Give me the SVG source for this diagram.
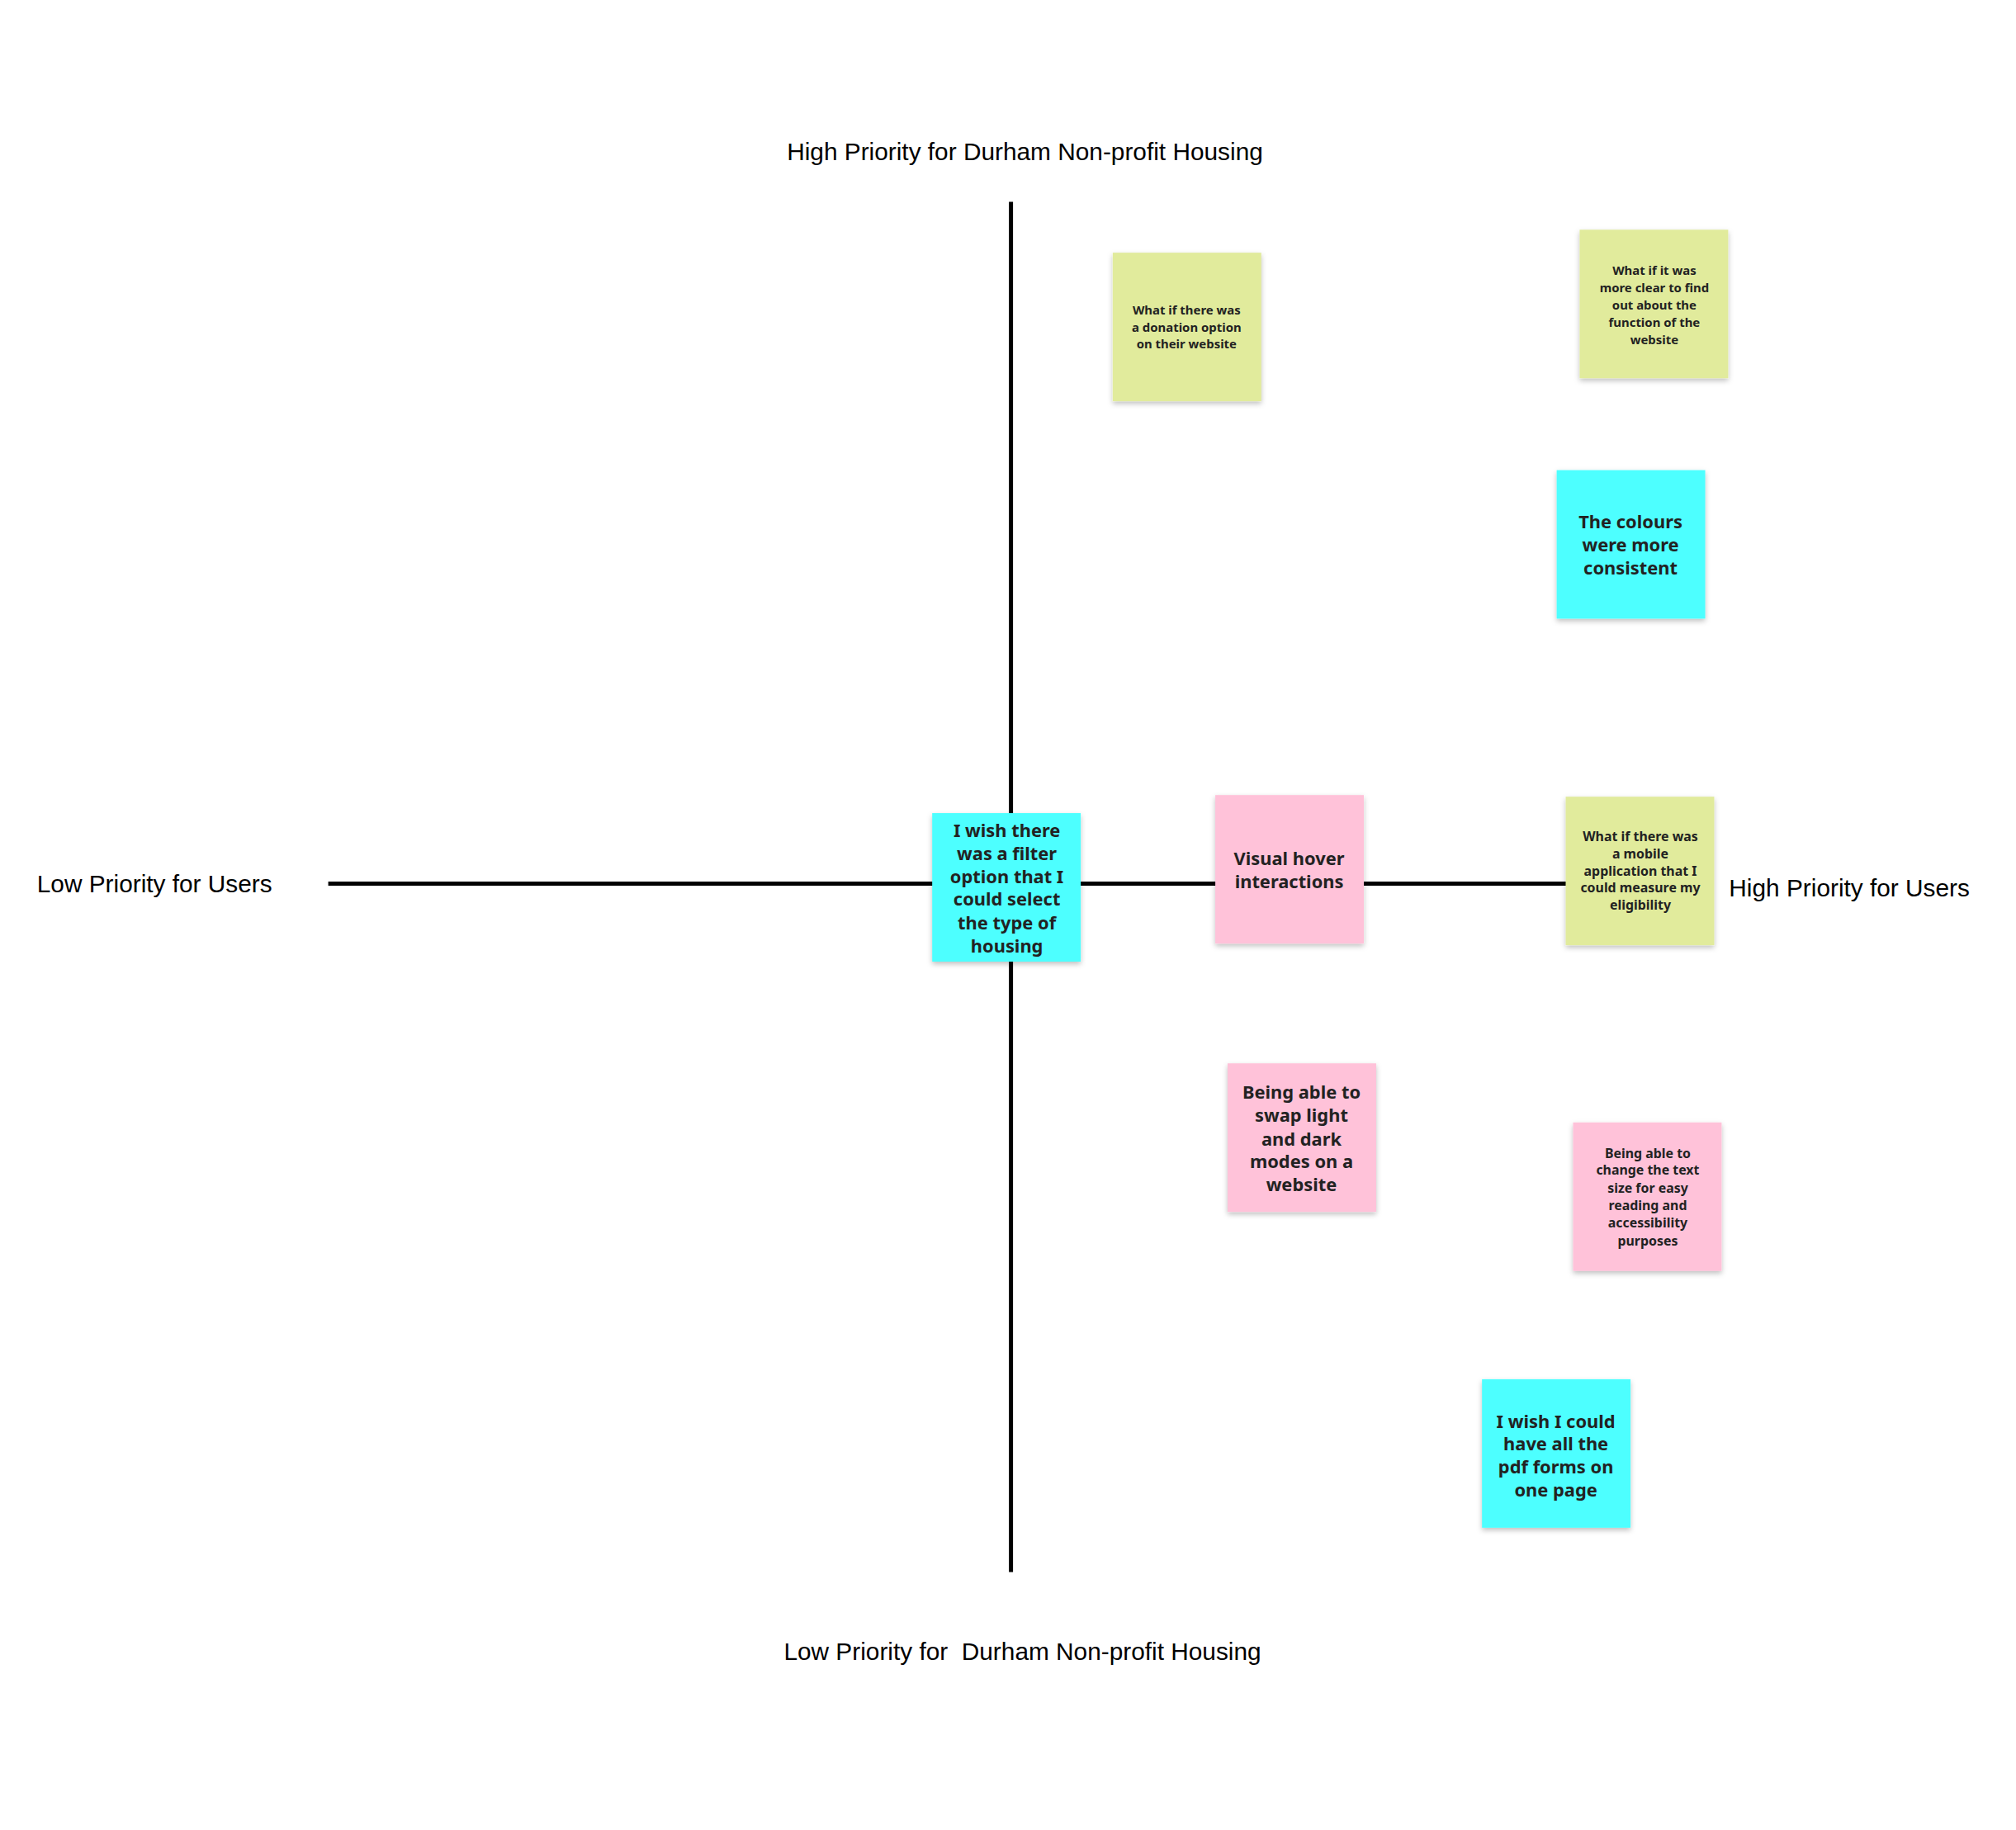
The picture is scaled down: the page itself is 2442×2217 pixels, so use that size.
<svg xmlns="http://www.w3.org/2000/svg" width="2442" height="2217" viewBox="0 0 2442 2217">
<style>
.ax{stroke:#000;stroke-width:5;fill:none}
.lbl{font-family:"Liberation Sans",Arial,sans-serif;font-size:30px;fill:#000}
.n{font-family:"Noto Sans","Open Sans",sans-serif;font-weight:bold;fill:#222;text-anchor:middle;dominant-baseline:central}
.s{font-size:15px}.b{font-size:22px}.m{font-size:16px}
.y{fill:#e1eb9c}.c{fill:#4dffff}.p{fill:#ffc2d9}
</style>
<defs><filter id="sh" x="-10%" y="-10%" width="130%" height="130%"><feDropShadow dx="0" dy="3" stdDeviation="3" flood-color="#000" flood-opacity="0.25"/></filter></defs>
<g transform="scale(0.994)">
<g id="connectors">
<line class="ax" x1="1232" y1="246" x2="1232" y2="1916"/>
<line class="ax" x1="400" y1="1077" x2="1910" y2="1077"/>
</g>
<g id="labels">
<text class="lbl" x="1249" y="195" text-anchor="middle">High Priority for Durham Non-profit Housing</text>
<text class="lbl" x="1246" y="2023" text-anchor="middle" xml:space="preserve">Low Priority for  Durham Non-profit Housing</text>
<text class="lbl" x="45" y="1088">Low Priority for Users</text>
<text class="lbl" x="2107" y="1093">High Priority for Users</text>
</g>
<g id="donation"><rect class="y" x="1356" y="308" width="181" height="181" filter="url(#sh)"/>
<text class="n s"><tspan x="1446" y="377">What if there was</tspan><tspan x="1446" y="398">a donation option</tspan><tspan x="1446" y="419">on their website</tspan></text></g>
<g id="clear"><rect class="y" x="1925" y="280" width="181" height="181" filter="url(#sh)"/>
<text class="n s"><tspan x="2016" y="329">What if it was</tspan><tspan x="2016" y="350">more clear to find</tspan><tspan x="2016" y="371">out about the</tspan><tspan x="2016" y="392">function of the</tspan><tspan x="2016" y="413">website</tspan></text></g>
<g id="colours"><rect class="c" x="1897" y="573" width="181" height="181" filter="url(#sh)"/>
<text class="n b"><tspan x="1987" y="635">The colours</tspan><tspan x="1987" y="663">were more</tspan><tspan x="1987" y="691">consistent</tspan></text></g>
<g id="filter"><rect class="c" x="1136" y="991" width="181" height="181" filter="url(#sh)"/>
<text class="n b"><tspan x="1227" y="1011">I wish there</tspan><tspan x="1227" y="1039">was a filter</tspan><tspan x="1227" y="1067">option that I</tspan><tspan x="1227" y="1095">could select</tspan><tspan x="1227" y="1124">the type of</tspan><tspan x="1227" y="1152">housing</tspan></text></g>
<g id="hover"><rect class="p" x="1481" y="969" width="181" height="181" filter="url(#sh)"/>
<text class="n b"><tspan x="1571" y="1045">Visual hover</tspan><tspan x="1571" y="1073">interactions</tspan></text></g>
<g id="mobile"><rect class="y" x="1908" y="971" width="181" height="181" filter="url(#sh)"/>
<text class="n m"><tspan x="1999" y="1019">What if there was</tspan><tspan x="1999" y="1040">a mobile</tspan><tspan x="1999" y="1061">application that I</tspan><tspan x="1999" y="1082">could measure my</tspan><tspan x="1999" y="1103">eligibility</tspan></text></g>
<g id="swap"><rect class="p" x="1496" y="1296" width="181" height="181" filter="url(#sh)"/>
<text class="n b"><tspan x="1586" y="1330">Being able to</tspan><tspan x="1586" y="1358">swap light</tspan><tspan x="1586" y="1387">and dark</tspan><tspan x="1586" y="1415">modes on a</tspan><tspan x="1586" y="1443">website</tspan></text></g>
<g id="textsize"><rect class="p" x="1917" y="1368" width="181" height="181" filter="url(#sh)"/>
<text class="n m"><tspan x="2008" y="1405">Being able to</tspan><tspan x="2008" y="1426">change the text</tspan><tspan x="2008" y="1448">size for easy</tspan><tspan x="2008" y="1469">reading and</tspan><tspan x="2008" y="1490">accessibility</tspan><tspan x="2008" y="1512">purposes</tspan></text></g>
<g id="pdf"><rect class="c" x="1806" y="1681" width="181" height="181" filter="url(#sh)"/>
<text class="n b"><tspan x="1896" y="1731">I wish I could</tspan><tspan x="1896" y="1759">have all the</tspan><tspan x="1896" y="1787">pdf forms on</tspan><tspan x="1896" y="1815">one page</tspan></text></g>
</g>
</svg>
